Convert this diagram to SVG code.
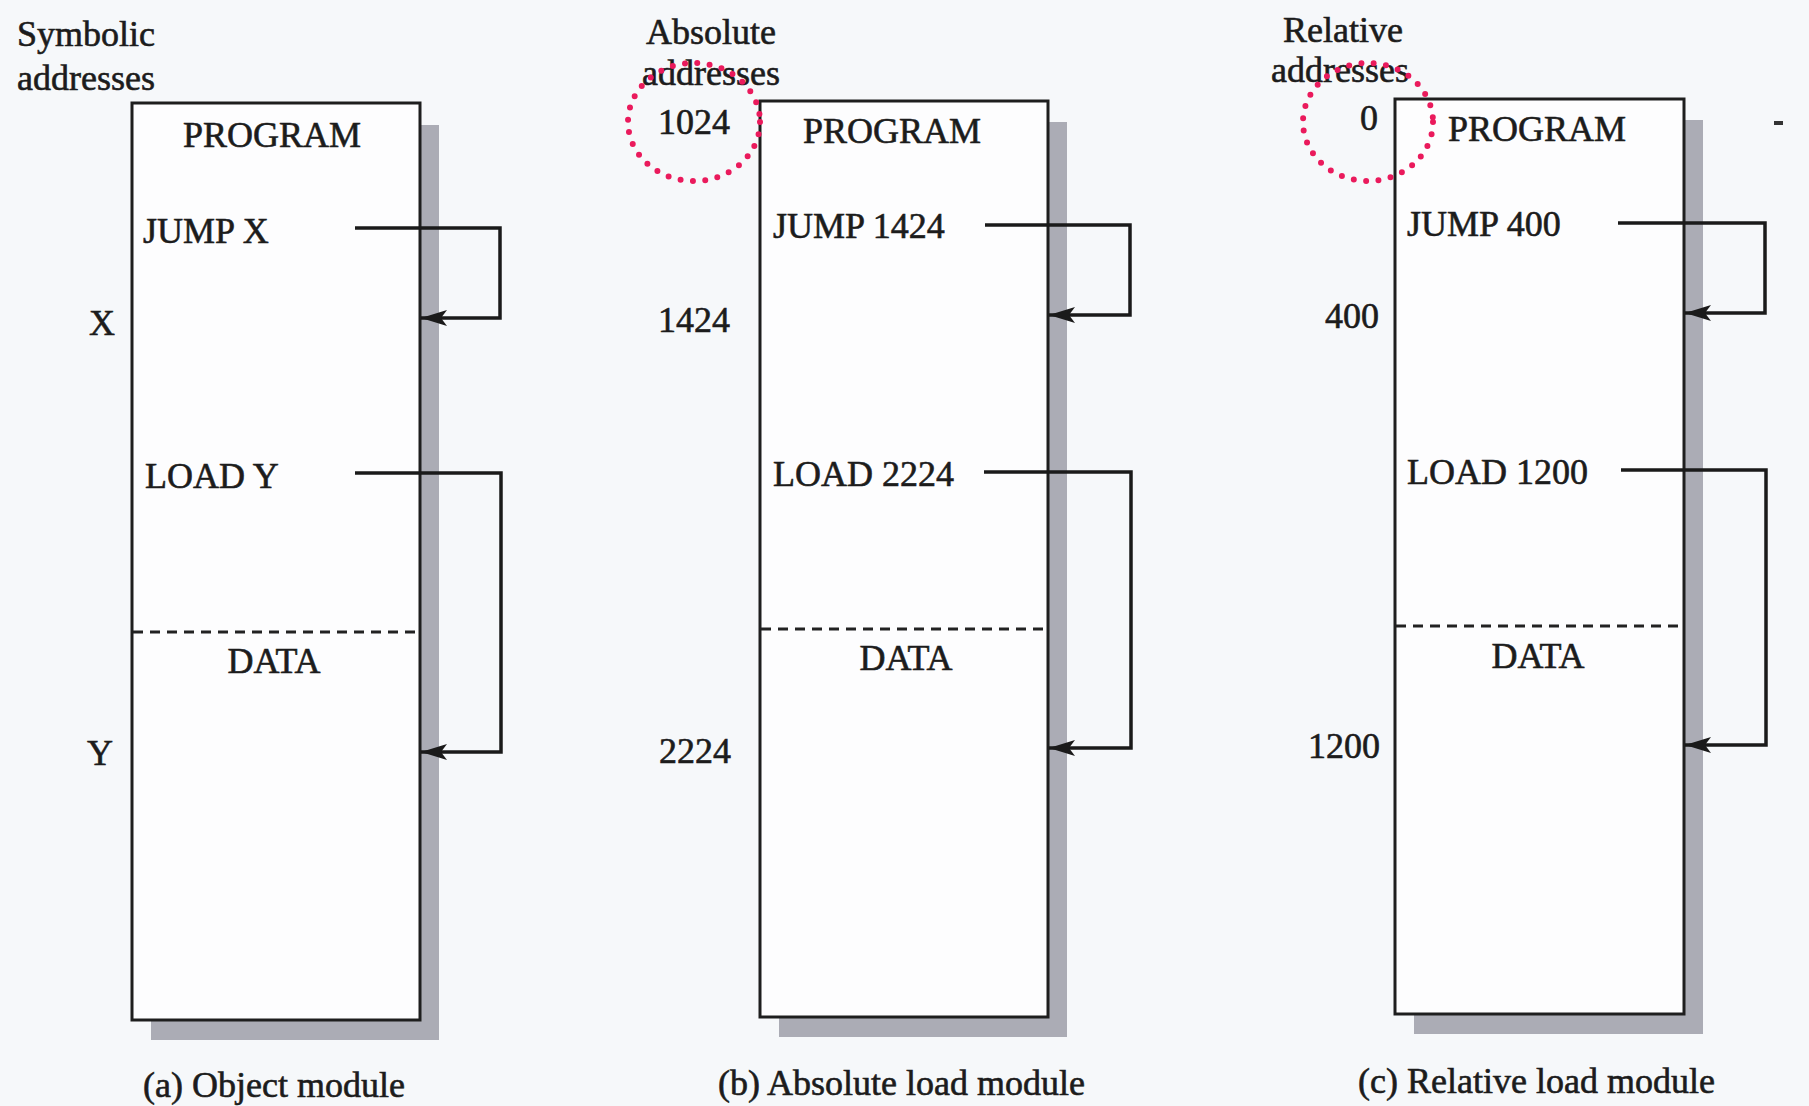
<svg xmlns="http://www.w3.org/2000/svg" width="1809" height="1106" viewBox="0 0 1809 1106">
<defs>
<marker id="ah" markerUnits="userSpaceOnUse" markerWidth="30" markerHeight="20" viewBox="0 0 30 20" refX="29" refY="10" orient="auto">
<path d="M29,10 L3,2 L9,10 L3,18 Z" fill="#1a1a1a"/>
</marker>
<style>
text{font-family:"Liberation Serif","Times New Roman",serif;font-size:36px;fill:#1c1c1c;stroke:#1c1c1c;stroke-width:0.6}
.end{text-anchor:end}
.mid{text-anchor:middle}
.shadow{fill:#abacb5}
.box{fill:#fdfdfe;stroke:#1e1e1e;stroke-width:3}
.dash{stroke:#222;stroke-width:3;stroke-dasharray:10 7;fill:none}
.conn{fill:none;stroke:#1a1a1a;stroke-width:3.5;marker-end:url(#ah)}
.ring{fill:none;stroke:#ea1a5c;stroke-width:6;stroke-linecap:round;stroke-dasharray:0 12.4}
</style>
</defs>
<rect width="1809" height="1106" fill="#f6f8fa"/>

<g id="module-a">
<text x="17" y="46">Symbolic</text>
<text x="17" y="90">addresses</text>
<rect class="shadow" x="151" y="125" width="288" height="915"/>
<rect class="box" x="132" y="103" width="288" height="917"/>
<text class="mid" x="272" y="147">PROGRAM</text>
<text x="143" y="243">JUMP X</text>
<text class="end" x="115" y="335">X</text>
<text x="145" y="488">LOAD Y</text>
<line class="dash" x1="133" y1="632" x2="419" y2="632"/>
<text class="mid" x="274" y="673">DATA</text>
<text class="end" x="113" y="765">Y</text>
<text x="143" y="1097">(a) Object module</text>
</g>

<g id="module-b">
<text x="646" y="44">Absolute</text>
<text x="642" y="85">addresses</text>
<rect class="shadow" x="779" y="122" width="288" height="915"/>
<rect class="box" x="760" y="101" width="288" height="916"/>
<text class="end" x="730" y="134">1024</text>
<text class="mid" x="892" y="143">PROGRAM</text>
<text x="773" y="238">JUMP 1424</text>
<text class="end" x="730" y="332">1424</text>
<text x="773" y="486">LOAD 2224</text>
<line class="dash" x1="761" y1="629" x2="1047" y2="629"/>
<text class="mid" x="906" y="670">DATA</text>
<text class="end" x="731" y="763">2224</text>
<text x="718" y="1095">(b) Absolute load module</text>
</g>

<g id="module-c">
<text x="1283" y="42">Relative</text>
<text x="1271" y="82">addresses</text>
<rect class="shadow" x="1414" y="120" width="289" height="914"/>
<rect class="box" x="1395" y="99" width="289" height="915"/>
<text class="end" x="1378" y="130">0</text>
<text class="mid" x="1537" y="141">PROGRAM</text>
<text x="1407" y="236">JUMP 400</text>
<text class="end" x="1379" y="328">400</text>
<text x="1407" y="484">LOAD 1200</text>
<line class="dash" x1="1396" y1="626" x2="1683" y2="626"/>
<text class="mid" x="1538" y="668">DATA</text>
<text class="end" x="1380" y="758">1200</text>
<text x="1358" y="1093">(c) Relative load module</text>
<rect x="1774" y="121" width="9" height="4" fill="#333"/>
</g>

<g id="connectors">
<path class="conn" d="M355,228 H500 V318 H421"/>
<path class="conn" d="M355,473 H501 V752 H421"/>
<path class="conn" d="M985,225 H1130 V315 H1049"/>
<path class="conn" d="M984,472 H1131 V748 H1049"/>
<path class="conn" d="M1618,223 H1765 V313 H1685"/>
<path class="conn" d="M1621,470 H1766 V745 H1685"/>
</g>

<g id="highlights">
<ellipse class="ring" cx="694" cy="122" rx="66" ry="59"/>
<ellipse class="ring" cx="1368" cy="122" rx="65" ry="59"/>
</g>
</svg>
